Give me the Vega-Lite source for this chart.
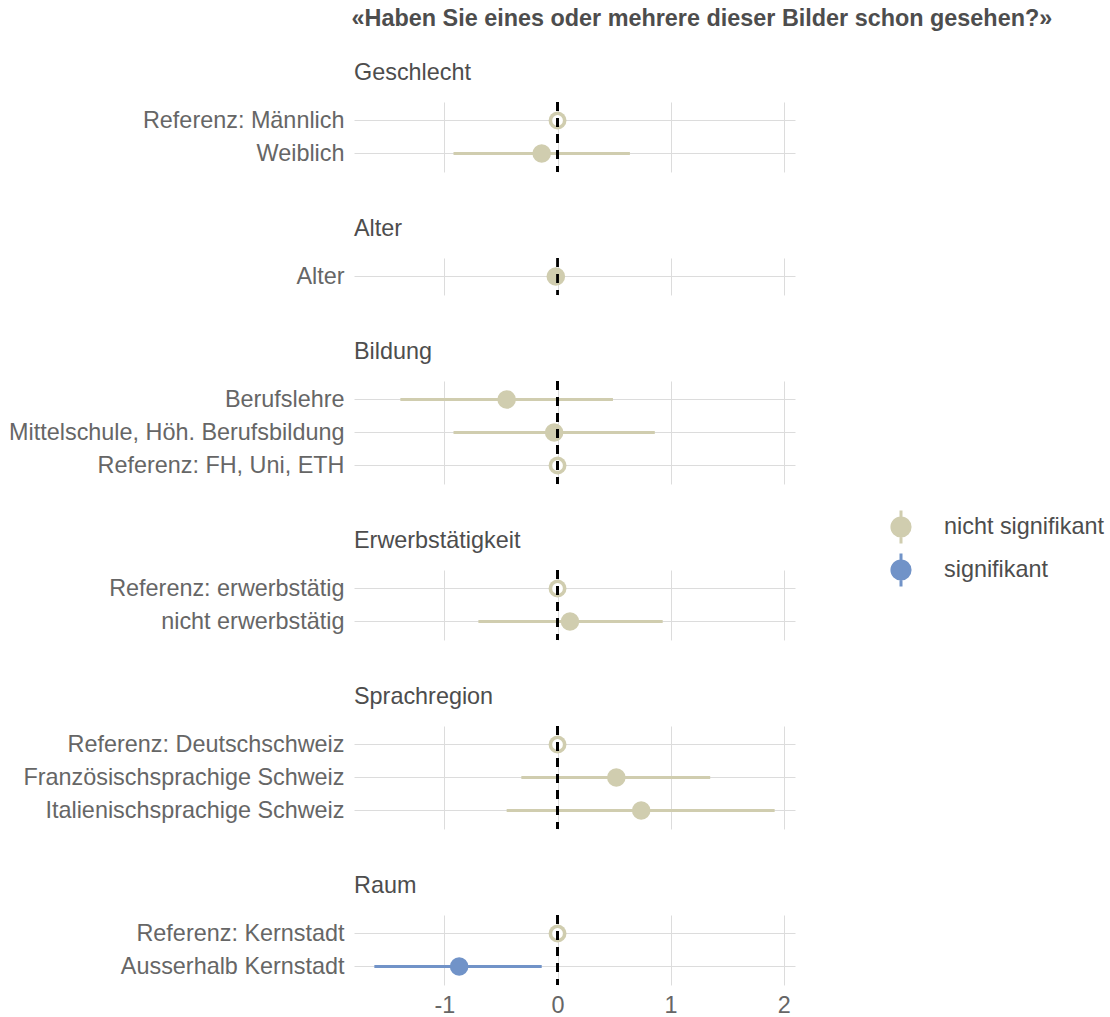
{
  "$schema": "https://vega.github.io/schema/vega-lite/v6.json",
  "padding": {"left": 8, "top": 6, "right": 5, "bottom": 2},
  "title": {"text": "«Haben Sie eines oder mehrere dieser Bilder schon gesehen?»", "anchor": "start", "fontSize": 23.4, "fontWeight": "bold", "color": "#4D4D4D", "font": "Liberation Sans", "offset": 30, "dx": 343},
  "data": {"values": [
    {"group": "Geschlecht", "label": "Referenz: Männlich", "est": 0, "lo": 0, "hi": 0, "sig": "nicht signifikant", "ref": true},
    {"group": "Geschlecht", "label": "Weiblich", "est": -0.14, "lo": -0.92, "hi": 0.64, "sig": "nicht signifikant", "ref": false},
    {"group": "Alter", "label": "Alter", "est": -0.015, "lo": -0.05, "hi": 0.02, "sig": "nicht signifikant", "ref": false},
    {"group": "Bildung", "label": "Berufslehre", "est": -0.45, "lo": -1.39, "hi": 0.49, "sig": "nicht signifikant", "ref": false},
    {"group": "Bildung", "label": "Mittelschule, Höh. Berufsbildung", "est": -0.03, "lo": -0.92, "hi": 0.86, "sig": "nicht signifikant", "ref": false},
    {"group": "Bildung", "label": "Referenz: FH, Uni, ETH", "est": 0, "lo": 0, "hi": 0, "sig": "nicht signifikant", "ref": true},
    {"group": "Erwerbstätigkeit", "label": "Referenz: erwerbstätig", "est": 0, "lo": 0, "hi": 0, "sig": "nicht signifikant", "ref": true},
    {"group": "Erwerbstätigkeit", "label": "nicht erwerbstätig", "est": 0.11, "lo": -0.70, "hi": 0.93, "sig": "nicht signifikant", "ref": false},
    {"group": "Sprachregion", "label": "Referenz: Deutschschweiz", "est": 0, "lo": 0, "hi": 0, "sig": "nicht signifikant", "ref": true},
    {"group": "Sprachregion", "label": "Französischsprachige Schweiz", "est": 0.52, "lo": -0.32, "hi": 1.35, "sig": "nicht signifikant", "ref": false},
    {"group": "Sprachregion", "label": "Italienischsprachige Schweiz", "est": 0.74, "lo": -0.45, "hi": 1.92, "sig": "nicht signifikant", "ref": false},
    {"group": "Raum", "label": "Referenz: Kernstadt", "est": 0, "lo": 0, "hi": 0, "sig": "nicht signifikant", "ref": true},
    {"group": "Raum", "label": "Ausserhalb Kernstadt", "est": -0.87, "lo": -1.62, "hi": -0.14, "sig": "signifikant", "ref": false}
  ]},
  "facet": {
    "row": {
      "field": "group",
      "sort": ["Geschlecht", "Alter", "Bildung", "Erwerbstätigkeit", "Sprachregion", "Raum"],
      "header": {"title": null, "labelOrient": "top", "labelAngle": 0, "labelAnchor": "start", "labelAlign": "left", "labelFontSize": 23.4, "labelColor": "#4D4D4D", "labelFont": "Liberation Sans", "labelPadding": -8}
    }
  },
  "spacing": {"row": 43},
  "resolve": {"scale": {"y": "independent"}},
  "spec": {
    "width": 441,
    "height": {"step": 33},
    "layer": [
      {
        "mark": {"type": "rule", "strokeWidth": 3},
        "encoding": {
          "y": {"field": "label", "type": "nominal", "sort": null, "scale": {"type": "point", "padding": 0.56},
                "axis": {"title": null, "ticks": false, "domain": false, "grid": true, "gridColor": "#DCDCDC", "gridWidth": 1, "labelFontSize": 23.4, "labelColor": "#666666", "labelFont": "Liberation Sans", "labelPadding": 10, "labelLimit": 0}},
          "x": {"field": "lo", "type": "quantitative", "scale": {"domain": [-1.8, 2.1], "nice": false, "zero": false},
                "axis": {"title": null, "values": [-1, 0, 1, 2], "labelExpr": "'' + datum.value", "ticks": false, "domain": false, "grid": true, "gridColor": "#DCDCDC", "gridWidth": 1, "labelFontSize": 23.4, "labelColor": "#666666", "labelFont": "Liberation Sans", "labelPadding": 7}},
          "x2": {"field": "hi"},
          "color": {"field": "sig", "type": "nominal", "scale": {"domain": ["nicht signifikant", "signifikant"], "range": ["#D0CDAF", "#7193C8"]}}
        }
      },
      {
        "mark": {"type": "point", "filled": true, "opacity": 1},
        "encoding": {
          "y": {"field": "label", "type": "nominal", "sort": null},
          "x": {"field": "est", "type": "quantitative"},
          "color": {"field": "sig", "type": "nominal"},
          "size": {"condition": {"test": "datum.ref", "value": 320}, "value": 345}
        }
      },
      {
        "mark": {"type": "point", "filled": true, "opacity": 1, "color": "white"},
        "encoding": {
          "y": {"field": "label", "type": "nominal", "sort": null},
          "x": {"field": "est", "type": "quantitative"},
          "size": {"condition": {"test": "datum.ref", "value": 115}, "value": 0}
        }
      },
      {
        "mark": {"type": "rule", "color": "black", "strokeWidth": 2.8, "strokeDash": [9, 7]},
        "encoding": {"x": {"datum": 0}}
      }
    ]
  },
  "config": {
    "view": {"stroke": null},
    "legend": {
      "orient": "none", "legendX": 529, "legendY": 407,
      "title": null,
      "labelFontSize": 23.4, "labelColor": "#4D4D4D", "labelFont": "Liberation Sans",
      "symbolType": "M-0.55,0A0.55,0.55 0 1,0 0.55,0A0.55,0.55 0 1,0 -0.55,0Z M0,-1L0,1",
      "symbolSize": 1089, "symbolStrokeWidth": 3, "labelOffset": 25, "rowPadding": -3
    }
  }
}
